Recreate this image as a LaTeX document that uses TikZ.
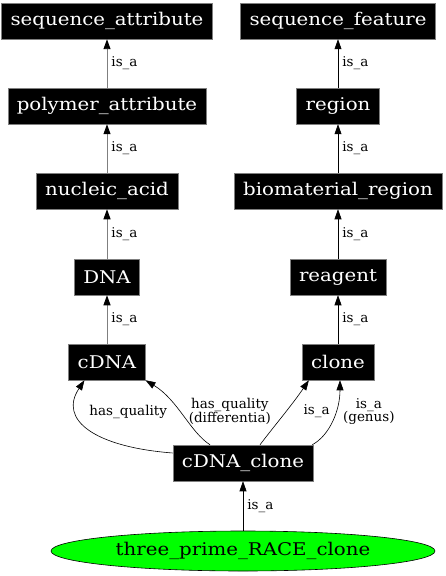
\documentclass[tikz,border=0pt]{standalone}
\usepackage{fontspec}
\usetikzlibrary{arrows.meta,shapes.geometric}
\newfontfamily\termfont[FakeStretch=1.13]{DejaVu Serif}
\newfontfamily\relfont{DejaVu Serif}
\definecolor{Frame}{HTML}{7F7F7F}
\definecolor{Focus}{HTML}{00FF00}
\tikzset{
  term/.style={draw=Frame,fill=black,text=white,font={\termfont\fontsize{17.5bp}{20bp}\selectfont},minimum height=36bp,inner xsep=9bp,inner ysep=0pt,line width=.5pt},
  focus/.style={ellipse,draw=black,fill=Focus,font={\termfont\fontsize{17.5bp}{20bp}\selectfont},minimum width=384bp,minimum height=40bp,inner sep=0pt,line width=.6pt},
  rel/.style={-{Triangle[length=10bp,width=7bp,color=black]},draw=black,line width=.6pt},
  relgrey/.style={rel,draw=Frame,line width=1pt},
  tag/.style={font={\relfont\fontsize{13.5bp}{13.5bp}\selectfont},inner sep=2bp,align=center}
}
\begin{document}
\begin{tikzpicture}[x=1bp,y=-1bp]
  \useasboundingbox (0,0) rectangle (446,576);
  % left column
  \node[term] (seqattr) at (107,21) {sequence\_attribute};
  \node[term] (polyattr) at (107,106) {polymer\_attribute};
  \node[term] (nucacid) at (107,191) {nucleic\_acid};
  \node[term] (dna) at (107,277) {DNA};
  \node[term] (cdna) at (107,362) {cDNA};
  % right column
  \node[term] (seqfeat) at (338,21) {sequence\_feature};
  \node[term] (region) at (338,106) {region};
  \node[term] (biomat) at (338,191) {biomaterial\_region};
  \node[term] (reagent) at (338,277) {reagent};
  \node[term] (clone) at (338,362) {clone};
  % bottom
  \node[term] (cdnaclone) at (243,463) {cDNA\_clone};
  \node[focus] (race) at (243,551) {three\_prime\_RACE\_clone};
  % is_a chains
  \draw[relgrey] (polyattr) -- node[tag,right=2bp] {is\_a} (seqattr);
  \draw[relgrey] (nucacid) -- node[tag,right=2bp] {is\_a} (polyattr);
  \draw[relgrey] (dna) -- node[tag,right=2bp] {is\_a} (nucacid);
  \draw[relgrey] (cdna) -- node[tag,right=2bp] {is\_a} (dna);
  \draw[rel] (region) -- node[tag,right=2bp] {is\_a} (seqfeat);
  \draw[rel] (biomat) -- node[tag,right=2bp] {is\_a} (region);
  \draw[rel] (reagent) -- node[tag,right=2bp] {is\_a} (biomat);
  \draw[rel] (clone) -- node[tag,right=2bp] {is\_a} (reagent);
  \draw[rel] (race) -- node[tag,right=2bp] {is\_a} (cdnaclone);
  % relations of cDNA_clone
  \draw[rel] ([yshift=10bp]cdnaclone.west) .. controls (95,447) and (58,420) .. node[tag,pos=.7,right=10bp] {has\_quality} ([xshift=16bp]cdna.south west);
  \draw[rel] ([xshift=-33bp]cdnaclone.north) .. controls (190,432) and (178,400) .. node[tag,pos=.55,right=7bp] {has\_quality\\(differentia)} (cdna.south east);
  \draw[rel] ([xshift=17bp]cdnaclone.north) .. controls (275,425) and (292,405) .. node[tag,pos=.55,right=15bp] {is\_a} ([xshift=7bp]clone.south west);
  \draw[rel] ([xshift=-1bp]cdnaclone.north east) .. controls (330,435) and (340,410) .. node[tag,pos=.62,right=5bp] {is\_a\\(genus)} ([xshift=2bp]clone.south);
\end{tikzpicture}
\end{document}
